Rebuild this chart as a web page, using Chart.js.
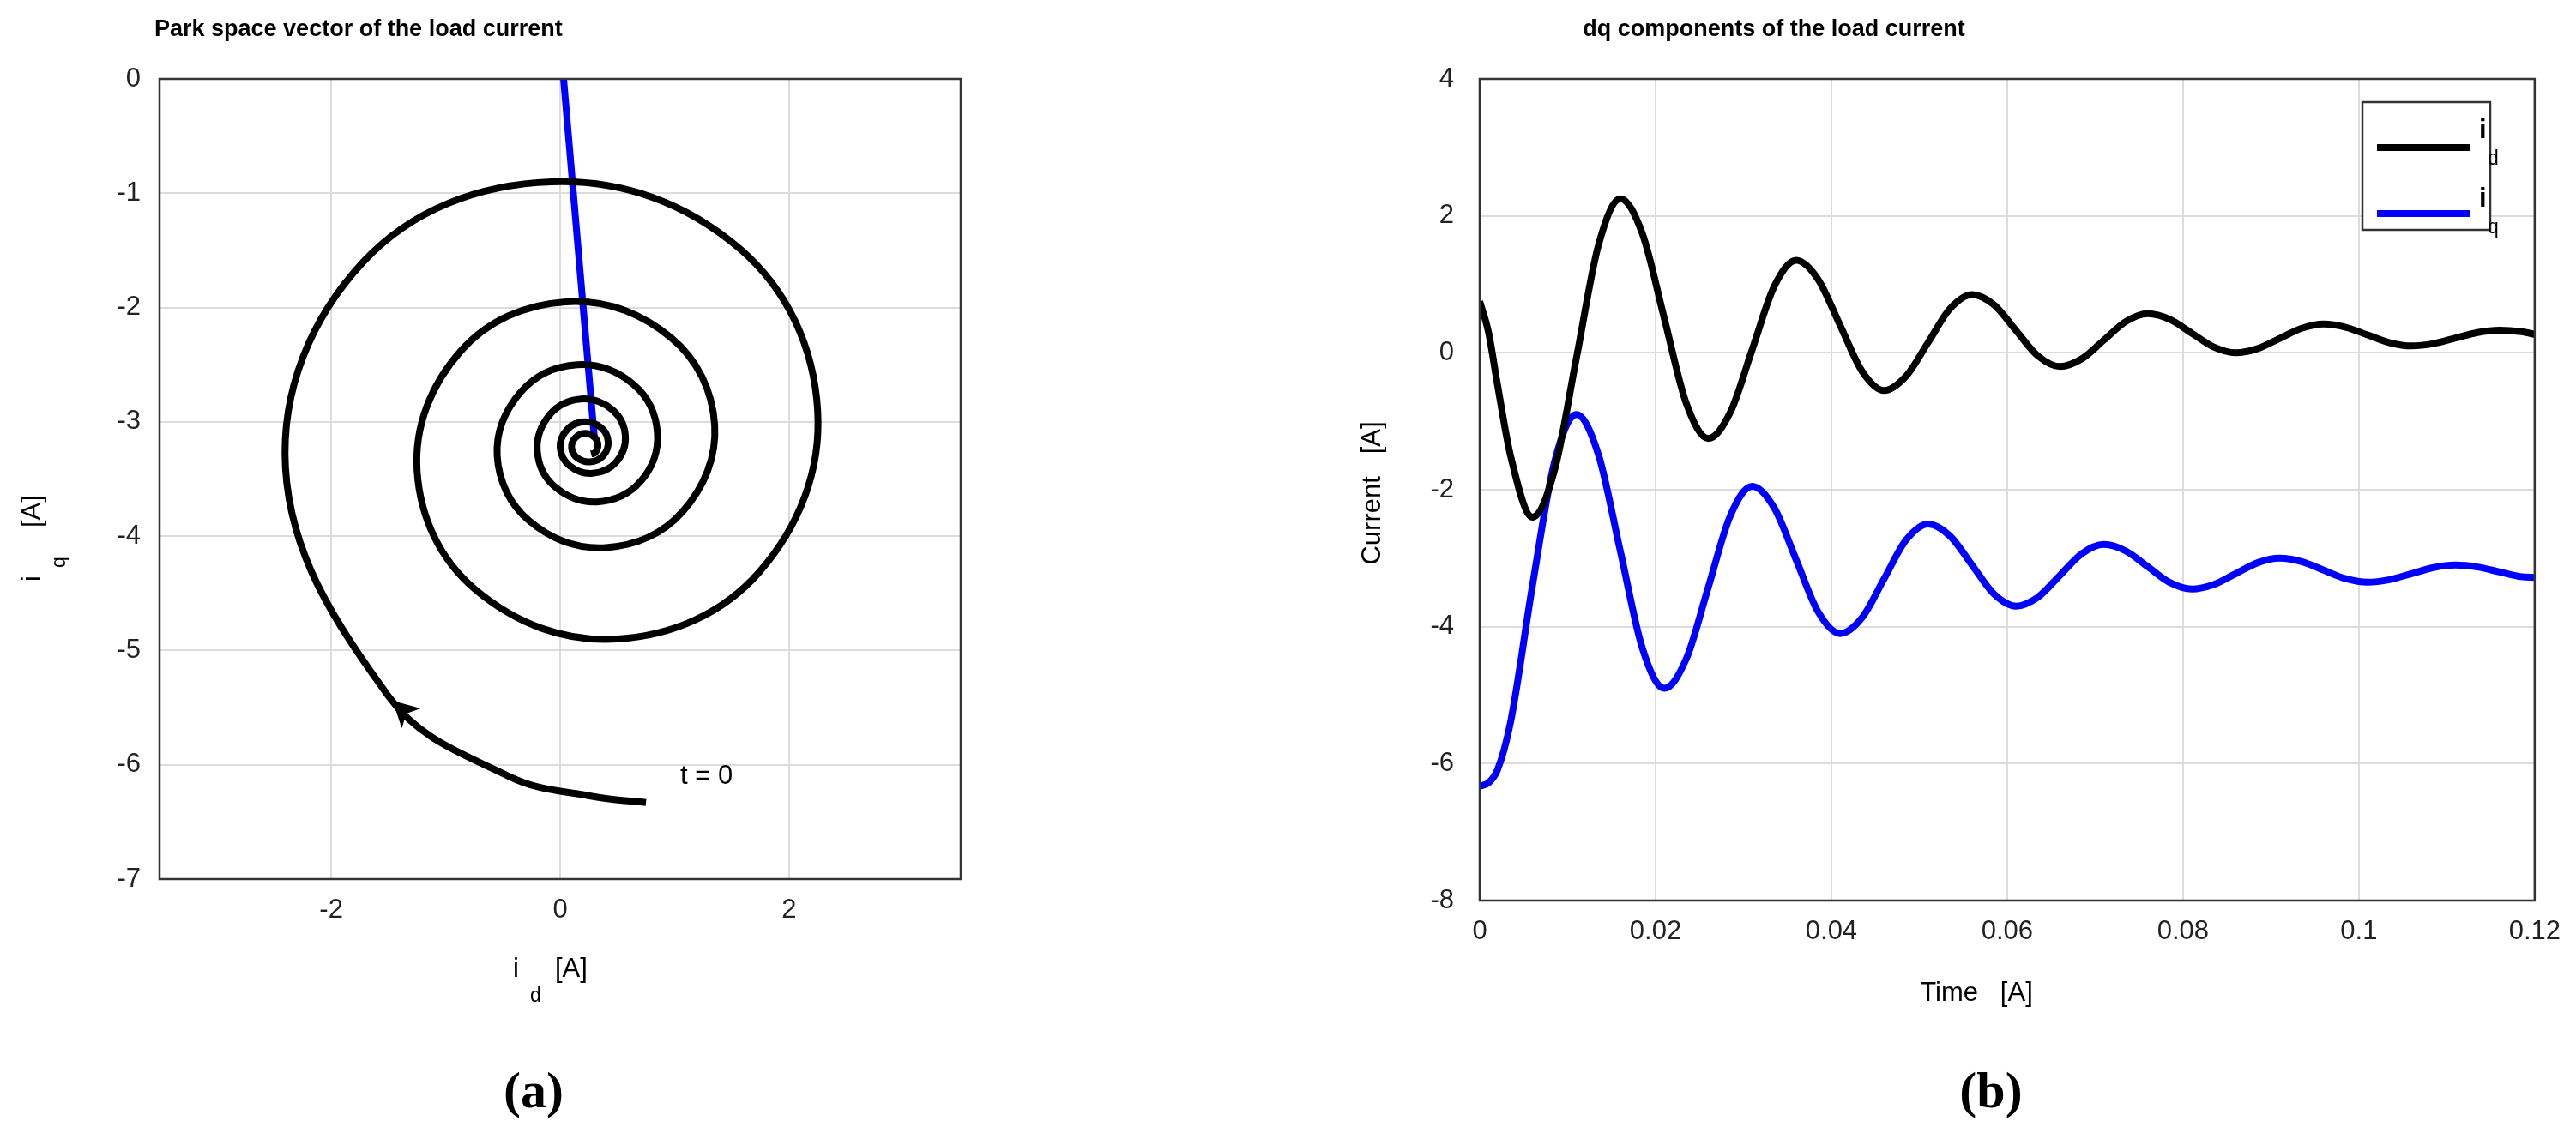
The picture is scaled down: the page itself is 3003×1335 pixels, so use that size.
<!DOCTYPE html>
<html><head><meta charset="utf-8">
<script src="https://cdn.jsdelivr.net/npm/chart.js@4/dist/chart.umd.min.js"></script>
<style>body{margin:0;background:#fff;width:3003px;height:1335px;overflow:hidden;position:relative}
canvas{position:absolute;top:0}</style></head><body>
<canvas id="a" width="1200" height="1335" style="left:0;width:1200px;height:1335px"></canvas>
<canvas id="b" width="1503" height="1335" style="left:1500px;width:1503px;height:1335px"></canvas>
<script>
const time=[0,0.001,0.002,0.0035,0.006,0.0085,0.011,0.0135,0.016,0.0185,0.021,0.0235,0.026,0.0285,0.031,0.0335,0.036,0.0385,0.041,0.0435,0.046,0.0485,0.051,0.0535,0.056,0.0585,0.061,0.0635,0.066,0.0685,0.071,0.0735,0.076,0.0785,0.081,0.0835,0.086,0.0885,0.091,0.0935,0.096,0.0985,0.101,0.1035,0.106,0.1085,0.111,0.1135,0.116,0.1185,0.12];
const idVals=[0.75,0.3,-0.45,-1.5,-2.4,-1.72,-0.075,1.57,2.25,1.74,0.5,-0.74,-1.25,-0.87,0.05,0.97,1.35,1.07,0.4,-0.27,-0.55,-0.34,0.15,0.645,0.85,0.70,0.325,-0.046,-0.2,-0.087,0.185,0.457,0.57,0.487,0.285,0.083,0.0,0.062,0.21,0.358,0.42,0.373,0.26,0.147,0.1,0.134,0.215,0.296,0.33,0.307,0.27];
const iqVals=[-6.33,-6.28,-6.1,-5.4,-3.4,-1.6,-0.9,-1.486,-2.9,-4.314,-4.9,-4.468,-3.425,-2.382,-1.95,-2.265,-3.025,-3.785,-4.1,-3.866,-3.3,-2.734,-2.5,-2.676,-3.1,-3.524,-3.7,-3.568,-3.25,-2.932,-2.8,-2.895,-3.125,-3.355,-3.45,-3.384,-3.225,-3.066,-3.0,-3.051,-3.175,-3.299,-3.35,-3.313,-3.225,-3.137,-3.1,-3.129,-3.2,-3.27,-3.28];
const vectorId=[0.3,0.03];
const vectorIq=[-3.15,0];
const xTicksA=[-2,0,2], yTicksA=[0,-1,-2,-3,-4,-5,-6,-7];
const xTicksB=[0,0.02,0.04,0.06,0.08,0.1,0.12], yTicksB=[4,2,0,-2,-4,-6,-8];
const FONT='"Liberation Sans", Arial, sans-serif';
Chart.defaults.font.family=FONT; Chart.defaults.color='#222';
const grid={color:'#dcdcdc',lineWidth:2,drawTicks:false};
const fmt=v=>String(+(+v).toFixed(3));
function frame(ctx,a){ctx.save();ctx.strokeStyle='#333';ctx.lineWidth=2.5;ctx.strokeRect(a.left,a.top,a.right-a.left,a.bottom-a.top);ctx.restore();}
function txt(ctx,s,x,y,size,opt={}){ctx.save();ctx.font=(opt.bold?'bold ':'')+size+'px '+(opt.fam||FONT);ctx.fillStyle=opt.color||'#000';ctx.textAlign=opt.align||'left';ctx.textBaseline='middle';if(opt.rot){ctx.translate(x,y);ctx.rotate(opt.rot);ctx.fillText(s,0,0);}else ctx.fillText(s,x,y);ctx.restore();}

new Chart(document.getElementById('a'),{type:'scatter',
data:{datasets:[
 {data:time.map((t,i)=>({x:idVals[i],y:iqVals[i]})),showLine:true,borderColor:'#000',borderWidth:8,pointRadius:0,tension:0.38,cubicInterpolationMode:'default'},
 {data:vectorId.map((v,i)=>({x:v,y:vectorIq[i]})),showLine:true,borderColor:'#0000ff',borderWidth:8,pointRadius:0}]},
options:{responsive:false,animation:false,devicePixelRatio:1,
 layout:{padding:{top:92,right:80,left:0,bottom:0}},
 plugins:{legend:{display:false},tooltip:{enabled:false}},
 scales:{x:{min:-3.5,max:3.5,afterBuildTicks:s=>{s.ticks=xTicksA.map(v=>({value:v}))},grid,border:{display:false},ticks:{font:{size:31},color:'#222',padding:18,callback:fmt},afterFit:s=>{s.height=310}},
  y:{min:-7,max:0,afterBuildTicks:s=>{s.ticks=yTicksA.map(v=>({value:v}))},grid,border:{display:false},ticks:{font:{size:31},color:'#222',padding:22,callback:fmt},afterFit:s=>{s.width=186}}}},
plugins:[{id:'deco',afterDraw(c){const ctx=c.ctx,a=c.chartArea,x=c.scales.x,y=c.scales.y;frame(ctx,a);
 txt(ctx,'Park space vector of the load current',180,35,27,{bold:true});
 txt(ctx,'i',598,1130,31);txt(ctx,'d',618,1162,23);txt(ctx,'[A]',647,1130,31);
 txt(ctx,'i',38,678,31,{rot:-Math.PI/2});txt(ctx,'q',70,662,23,{rot:-Math.PI/2});txt(ctx,'[A]',38,615,31,{rot:-Math.PI/2});
 txt(ctx,'t = 0',x.getPixelForValue(1.05),y.getPixelForValue(-6.1),31);
 const px=x.getPixelForValue(-1.42),py=y.getPixelForValue(-5.48);const ang=Math.atan2(-1,-1.05);
 ctx.save();ctx.translate(px,py);ctx.rotate(ang);ctx.fillStyle='#000';ctx.beginPath();ctx.moveTo(8,0);ctx.lineTo(-22,-16);ctx.lineTo(-14,0);ctx.lineTo(-22,16);ctx.closePath();ctx.fill();ctx.restore();
 txt(ctx,'(a)',622,1275,60,{bold:true,align:'center',fam:'"Liberation Serif", serif'});
}}]});

new Chart(document.getElementById('b'),{type:'line',
data:{datasets:[
 {data:time.map((t,i)=>({x:t,y:idVals[i]})),borderColor:'#000',borderWidth:8,pointRadius:0,cubicInterpolationMode:'monotone'},
 {data:time.map((t,i)=>({x:t,y:iqVals[i]})),borderColor:'#0000ff',borderWidth:8,pointRadius:0,cubicInterpolationMode:'monotone'}]},
options:{responsive:false,animation:false,devicePixelRatio:1,
 layout:{padding:{top:92,right:35,left:0,bottom:0}},
 plugins:{legend:{display:false},tooltip:{enabled:false}},
 scales:{x:{type:'linear',min:0,max:0.12,afterBuildTicks:s=>{s.ticks=xTicksB.map(v=>({value:v}))},grid,border:{display:false},ticks:{font:{size:31},color:'#222',padding:18,callback:fmt},afterFit:s=>{s.height=285}},
  y:{min:-8,max:4,afterBuildTicks:s=>{s.ticks=yTicksB.map(v=>({value:v}))},grid,border:{display:false},ticks:{font:{size:31},color:'#222',padding:30,callback:fmt},afterFit:s=>{s.width=225}}}},
plugins:[{id:'deco',afterDraw(c){const ctx=c.ctx,a=c.chartArea;frame(ctx,a);const o=-1500;
 txt(ctx,'dq components of the load current',2068+o,35,27,{bold:true,align:'center'});
 txt(ctx,'Time   [A]',2304+o,1158,31,{align:'center'});
 txt(ctx,'Current   [A]',1600+o,575,31,{align:'center',rot:-Math.PI/2});
 ctx.save();ctx.strokeStyle='#333';ctx.lineWidth=2.5;ctx.fillStyle='#fff';ctx.fillRect(2754+o,119,149,149);ctx.strokeRect(2754+o,119,149,149);
 ctx.lineWidth=8;ctx.strokeStyle='#000';ctx.beginPath();ctx.moveTo(2771+o,172);ctx.lineTo(2880+o,172);ctx.stroke();
 ctx.strokeStyle='#0000ff';ctx.beginPath();ctx.moveTo(2771+o,249);ctx.lineTo(2880+o,249);ctx.stroke();ctx.restore();
 txt(ctx,'i',2890+o,152,31,{bold:true});txt(ctx,'d',2900+o,186,23);txt(ctx,'i',2890+o,232,31,{bold:true});txt(ctx,'q',2900+o,266,23);
 txt(ctx,'(b)',2321+o,1275,60,{bold:true,align:'center',fam:'"Liberation Serif", serif'});
}}]});
</script></body></html>
